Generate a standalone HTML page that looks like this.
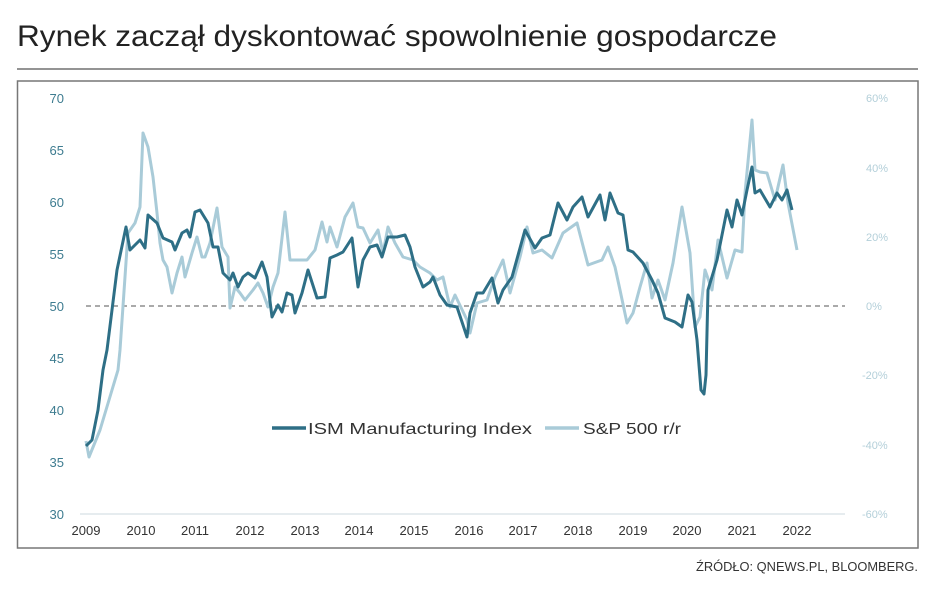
<!DOCTYPE html>
<html><head><meta charset="utf-8"><style>
body{margin:0;background:#fff;width:933px;height:593px;overflow:hidden;font-family:"Liberation Sans",sans-serif}
</style></head><body>
<svg width="933" height="593" viewBox="0 0 933 593" xmlns="http://www.w3.org/2000/svg" font-family="Liberation Sans, sans-serif">
<text x="17" y="46" font-size="30" fill="#222" textLength="760" lengthAdjust="spacingAndGlyphs">Rynek zaczął dyskontować spowolnienie gospodarcze</text>
<line x1="17" y1="69" x2="918" y2="69" stroke="#555" stroke-width="1.2"/>
<rect x="17.5" y="81" width="900.5" height="467" fill="#fff" stroke="#777" stroke-width="1.5"/>
<g font-size="13" fill="#3e7c90" text-anchor="end">
<text x="64" y="103">70</text><text x="64" y="155">65</text><text x="64" y="207">60</text><text x="64" y="259">55</text><text x="64" y="311">50</text><text x="64" y="363">45</text><text x="64" y="415">40</text><text x="64" y="467">35</text><text x="64" y="519">30</text>
</g>
<g font-size="11" fill="#b3cfd9" text-anchor="start">
<text x="866" y="102">60%</text><text x="866" y="172">40%</text><text x="866" y="241">20%</text><text x="866" y="310">0%</text><text x="862" y="379">-20%</text><text x="862" y="449">-40%</text><text x="862" y="518">-60%</text>
</g>
<line x1="80" y1="514" x2="845" y2="514" stroke="#dde6ea" stroke-width="1.5"/>
<g font-size="13" fill="#333" text-anchor="middle">
<text x="86" y="535">2009</text><text x="141" y="535">2010</text><text x="195" y="535">2011</text><text x="250" y="535">2012</text><text x="305" y="535">2013</text><text x="359" y="535">2014</text><text x="414" y="535">2015</text><text x="469" y="535">2016</text><text x="523" y="535">2017</text><text x="578" y="535">2018</text><text x="633" y="535">2019</text><text x="687" y="535">2020</text><text x="742" y="535">2021</text><text x="797" y="535">2022</text>
</g>
<line x1="86" y1="306" x2="845" y2="306" stroke="#555" stroke-width="1" stroke-dasharray="5,4"/>
<polyline fill="none" stroke="#a9cbd8" stroke-width="3" stroke-linejoin="round" points="86,441 89,457 100,430 112,390 118,370 120,350 128,233 135,223 140,207 143,133 148,147 153,177 157,213 160,243 163,260 167,267 172,293 177,273 182,257 185,277 192,253 197,237 202,257 205,257 210,243 217,208 222,247 228,257 230,308 235,287 240,293 245,300 253,290 258,283 263,293 268,307 273,287 278,273 285,212 290,260 300,260 307,260 315,250 322,222 327,242 330,227 337,247 345,217 353,203 358,227 363,228 370,243 378,230 383,253 388,227 395,243 403,257 413,260 420,267 430,273 437,280 443,277 450,307 455,295 467,320 470,333 477,303 487,300 495,277 503,260 510,293 520,257 527,227 533,253 542,250 552,258 563,233 577,223 588,265 602,260 608,247 615,267 620,290 627,323 633,313 640,287 647,263 652,298 658,280 665,300 673,263 682,207 690,253 695,327 700,317 705,270 712,290 718,240 727,278 735,250 742,252 745,193 752,120 755,170 760,172 767,173 775,200 783,165 788,203 797,250"/>
<polyline fill="none" stroke="#2e6f86" stroke-width="3" stroke-linejoin="round" points="86,446 92,440 98,410 103,370 107,350 117,270 126,227 130,250 140,240 145,248 148,215 157,223 163,238 172,242 175,250 182,233 187,230 190,237 195,212 200,210 208,223 213,247 218,247 223,273 230,280 233,273 238,287 243,277 248,273 255,278 262,262 267,277 272,317 278,305 282,312 287,293 292,295 295,313 302,293 308,270 317,298 325,297 330,258 337,255 343,252 352,238 358,287 363,260 370,247 377,245 382,257 388,237 397,237 405,235 410,247 415,267 423,287 430,282 433,277 440,295 447,305 457,307 467,337 470,313 477,293 483,293 492,278 498,303 503,290 512,277 525,230 535,248 542,238 550,235 558,203 567,220 573,207 582,197 588,217 600,195 605,220 610,193 618,213 623,215 628,250 633,252 643,263 652,280 658,293 665,318 670,320 675,322 682,327 688,295 692,302 697,340 701,390 704,394 706,375 708,290 717,260 727,210 732,227 737,200 742,215 747,190 752,167 755,193 760,190 770,207 777,193 782,200 787,190 792,210"/>
<line x1="272" y1="428" x2="306" y2="428" stroke="#2e6f86" stroke-width="3.5"/>
<text x="308" y="434" font-size="16" fill="#333" textLength="224" lengthAdjust="spacingAndGlyphs">ISM Manufacturing Index</text>
<line x1="545" y1="428" x2="579" y2="428" stroke="#a9cbd8" stroke-width="3.5"/>
<text x="583" y="434" font-size="16" fill="#333" textLength="98" lengthAdjust="spacingAndGlyphs">S&amp;P 500 r/r</text>
<text x="918" y="571" font-size="13" fill="#333" text-anchor="end" textLength="222" lengthAdjust="spacingAndGlyphs">ŹRÓDŁO: QNEWS.PL, BLOOMBERG.</text>
</svg>
</body></html>
